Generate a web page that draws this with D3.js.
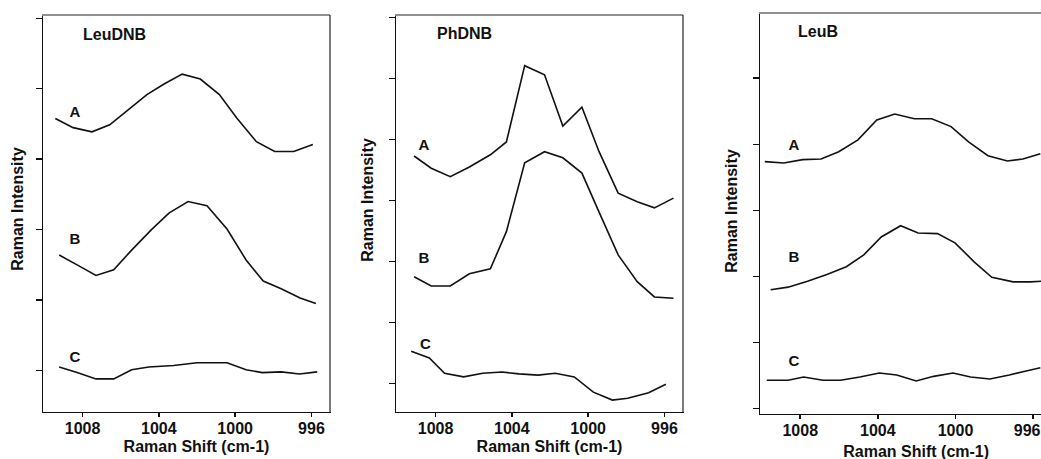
<!DOCTYPE html>
<html lang="en">
<head>
    <meta charset="UTF-8">
    <title>Raman spectra</title>
    <script src="https://d3js.org/d3.v7.min.js"></script>
    <style>
        body { margin: 0; background: #fff; }
        svg { font-family: "Liberation Sans", Arial, sans-serif; font-weight: bold; fill: #111; }
        .axis path, .axis line { stroke: #111; stroke-width: 1.5; shape-rendering: crispEdges; }
        .axis text { font-size: 16px; font-weight: bold; fill: #111; font-family: "Liberation Sans", Arial, sans-serif; }
        .curve { fill: none; stroke: #111; stroke-width: 1.6; }
    </style>
</head>
<body>
<script>
    // x tick labels shared by all panels
    const shiftTicks = [1008, 1004, 1000, 996];

    // LeuDNB
    const leuDnbShiftA = [1009.4, 1008.47, 1007.48, 1006.55, 1005.6, 1004.6, 1003.7, 1002.75, 1001.8, 1000.8, 999.9, 998.86, 997.9, 996.9, 995.9];
    const leuDnbA = [3.57, 3.44, 3.38, 3.48, 3.69, 3.91, 4.06, 4.2, 4.13, 3.91, 3.58, 3.24, 3.10, 3.10, 3.20];
    const leuDnbShiftB = [1009.2, 1008.26, 1007.27, 1006.34, 1005.4, 1004.36, 1003.43, 1002.44, 1001.45, 1000.4, 999.4, 998.5, 997.56, 996.57, 995.74];
    const leuDnbB = [1.63, 1.49, 1.34, 1.42, 1.70, 1.99, 2.23, 2.39, 2.33, 2.0, 1.56, 1.26, 1.15, 1.02, 0.94];
    const leuDnbShiftC = [1009.2, 1008.26, 1007.27, 1006.34, 1005.4, 1004.5, 1003.2, 1001.97, 1000.4, 999.4, 998.55, 997.56, 996.6, 995.67];
    const leuDnbC = [0.04, -0.04, -0.13, -0.13, 0.0, 0.04, 0.06, 0.10, 0.10, 0.0, -0.04, -0.03, -0.06, -0.03];

    // PhDNB
    const phDnbShift = [1009.1, 1008.2, 1007.2, 1006.2, 1005.1, 1004.26, 1003.3, 1002.26, 1001.3, 1000.3, 999.4, 998.4, 997.4, 996.5, 995.5];
    const phDnbA = [3.72, 3.52, 3.38, 3.54, 3.74, 3.95, 5.2, 5.05, 4.21, 4.52, 3.79, 3.11, 2.97, 2.87, 3.03];
    const phDnbB = [1.74, 1.59, 1.59, 1.79, 1.87, 2.48, 3.61, 3.79, 3.69, 3.44, 2.80, 2.10, 1.66, 1.41, 1.39];
    const phDnbShiftC = [1009.25, 1008.3, 1007.5, 1006.5, 1005.5, 1004.5, 1003.6, 1002.6, 1001.7, 1000.7, 999.7, 998.7, 997.9, 996.8, 995.9];
    const phDnbC = [0.52, 0.41, 0.16, 0.10, 0.16, 0.18, 0.15, 0.13, 0.16, 0.10, -0.15, -0.28, -0.25, -0.16, -0.02];

    // LeuB
    const leuBShiftA = [1009.8, 1008.82, 1007.85, 1006.9, 1005.99, 1005.0, 1004.03, 1003.1, 1002.1, 1001.2, 1000.2, 999.3, 998.3, 997.3, 996.5, 995.6];
    const leuBA = [3.73, 3.71, 3.76, 3.77, 3.88, 4.06, 4.36, 4.45, 4.38, 4.38, 4.26, 4.03, 3.82, 3.74, 3.77, 3.85];
    const leuBShiftB = [1009.5, 1008.6, 1007.6, 1006.6, 1005.6, 1004.7, 1003.8, 1002.8, 1001.9, 1000.9, 1000.0, 999.0, 998.1, 997.0, 996.1, 995.5];
    const leuBB = [1.79, 1.83, 1.92, 2.02, 2.14, 2.32, 2.59, 2.76, 2.65, 2.64, 2.5, 2.21, 1.98, 1.91, 1.91, 1.92];
    const leuBShiftC = [1009.7, 1008.6, 1007.8, 1006.8, 1005.9, 1004.9, 1003.9, 1003.0, 1002.0, 1001.1, 1000.1, 999.2, 998.2, 997.2, 996.5, 995.6];
    const leuBC = [0.42, 0.42, 0.47, 0.42, 0.42, 0.47, 0.53, 0.50, 0.41, 0.48, 0.53, 0.47, 0.44, 0.50, 0.55, 0.61];

    const zip = (xs, ys) => xs.map((x, i) => ({ x: x, y: ys[i] }));

    const panels = [
        { title: "LeuDNB", left: 42, top: 15, width: 288, height: 397,
          yDomain: [-0.6, 5.04], yTicks: [0, 1, 2, 3, 4, 5],
          curves: [
              { label: "A", data: zip(leuDnbShiftA, leuDnbA), lx: 1008.37, ly: 3.59 },
              { label: "B", data: zip(leuDnbShiftB, leuDnbB), lx: 1008.37, ly: 1.78 },
              { label: "C", data: zip(leuDnbShiftC, leuDnbC), lx: 1008.37, ly: 0.11 }
          ],
          titleDx: 41, titleY: 40, yTitleX: 23, yTitleY: 209, xTitleY: 452 },
        { title: "PhDNB", left: 395, top: 15, width: 288, height: 397,
          yDomain: [-0.475, 6.03], yTicks: [0, 1, 2, 3, 4, 5, 6],
          curves: [
              { label: "A", data: zip(phDnbShift, phDnbA), lx: 1008.58, ly: 3.82 },
              { label: "B", data: zip(phDnbShift, phDnbB), lx: 1008.58, ly: 1.97 },
              { label: "C", data: zip(phDnbShiftC, phDnbC), lx: 1008.5, ly: 0.55 }
          ],
          titleDx: 42, titleY: 39, yTitleX: 373, yTitleY: 200, xTitleY: 452 },
        { title: "LeuB", left: 759, top: 13, width: 293, height: 401,
          yDomain: [-0.09, 5.98], yTicks: [0, 1, 2, 3, 4, 5],
          curves: [
              { label: "A", data: zip(leuBShiftA, leuBA), lx: 1008.3, ly: 3.91 },
              { label: "B", data: zip(leuBShiftB, leuBB), lx: 1008.3, ly: 2.21 },
              { label: "C", data: zip(leuBShiftC, leuBC), lx: 1008.3, ly: 0.64 }
          ],
          titleDx: 39, titleY: 37, yTitleX: 737, yTitleY: 211, xTitleY: 457 }
    ];

    const svg = d3.select("body").append("svg")
        .attr("width", 1041)
        .attr("height", 459);

    panels.forEach(p => {
        const x = d3.scaleLinear().domain([1010.1, 995.0]).range([p.left, p.left + p.width]);
        const y = d3.scaleLinear().domain(p.yDomain).range([p.top + p.height, p.top]);
        const g = svg.append("g");

        // frame top and right
        g.append("line")
            .attr("x1", p.left).attr("x2", p.left + p.width)
            .attr("y1", p.top).attr("y2", p.top)
            .attr("stroke", "#222").attr("stroke-width", 1.2);
        g.append("line")
            .attr("x1", p.left + p.width).attr("x2", p.left + p.width)
            .attr("y1", p.top).attr("y2", p.top + p.height)
            .attr("stroke", "#222").attr("stroke-width", 1.2);

        g.append("g")
            .attr("class", "axis")
            .attr("transform", `translate(${p.left},0)`)
            .call(d3.axisLeft(y).tickValues(p.yTicks).tickSize(6).tickSizeOuter(0).tickFormat(""));

        const xAxis = g.append("g")
            .attr("class", "axis")
            .attr("transform", `translate(0,${p.top + p.height})`)
            .call(d3.axisBottom(x).tickValues(shiftTicks).tickSize(5).tickSizeOuter(0).tickPadding(6).tickFormat(d3.format("d")));

        // keep the last label inside the window where the panel runs off the edge
        xAxis.selectAll(".tick text")
            .filter(d => x(d) + 14 > 1041)
            .attr("text-anchor", "end")
            .attr("x", d => 1040 - x(d));

        const line = d3.line().x(d => x(d.x)).y(d => y(d.y));

        p.curves.forEach(c => {
            g.append("path")
                .datum(c.data)
                .attr("class", "curve")
                .attr("d", line);
            g.append("text")
                .attr("x", x(c.lx))
                .attr("y", y(c.ly))
                .attr("text-anchor", "middle")
                .attr("font-size", 15)
                .text(c.label);
        });

        g.append("text")
            .attr("x", p.left + p.titleDx)
            .attr("y", p.titleY)
            .attr("font-size", 16)
            .text(p.title);

        g.append("text")
            .attr("transform", `translate(${p.yTitleX},${p.yTitleY}) rotate(-90)`)
            .attr("text-anchor", "middle")
            .attr("font-size", 16)
            .text("Raman Intensity");

        g.append("text")
            .attr("x", x(1002))
            .attr("y", p.xTitleY)
            .attr("text-anchor", "middle")
            .attr("font-size", 16)
            .text("Raman Shift (cm-1)");
    });
</script>
</body>
</html>
